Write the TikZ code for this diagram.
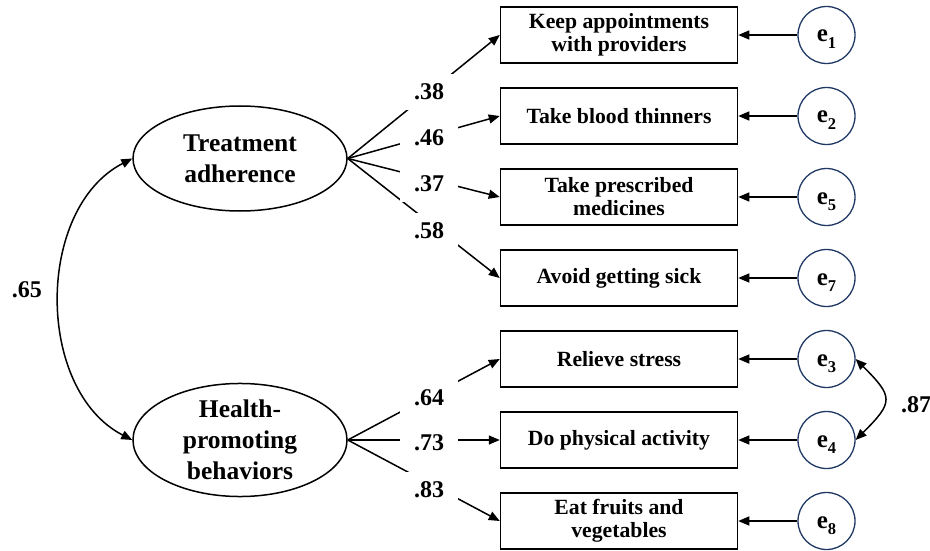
\documentclass[tikz,border=0pt]{standalone}
\usepackage{fontspec}
\setmainfont{Liberation Serif}
\usetikzlibrary{arrows.meta,shapes.geometric}
\definecolor{errblue}{RGB}{31,56,100}
\newcommand{\errsub}[1]{e\raisebox{-6pt}{\fontsize{16.5}{16.5}\selectfont #1}}
\begin{document}
\begin{tikzpicture}[x=1pt,y=-1pt,line width=1.5pt,
  >={Triangle[length=11pt,width=9pt]},
  latent/.style={draw,ellipse,minimum width=214pt,minimum height=105pt,inner sep=0pt,align=center,font=\fontsize{25.5}{31}\selectfont\bfseries},
  item/.style={draw,rectangle,minimum width=237pt,minimum height=56pt,inner sep=0pt,align=center,font=\fontsize{21.7}{23}\selectfont\bfseries},
  err/.style={draw=errblue,circle,line width=1.3pt,minimum size=57pt,inner sep=0pt,text height=19pt,text depth=5pt,font=\fontsize{25}{25}\selectfont\bfseries},
  coef/.style={fill=white,minimum width=58pt,minimum height=36pt,inner sep=0pt,font=\fontsize{24}{24}\selectfont\bfseries},
  corr/.style={font=\fontsize{24}{24}\selectfont\bfseries}]
\useasboundingbox (0,0) rectangle (930,551);
% latent factors
\node[latent] (ta) at (240,158.5) {Treatment\\adherence};
\node[latent] (hp) at (240,440) {Health-\\promoting\\behaviors};
% observed items
\node[item] (keep) at (619,35) {Keep appointments\\with providers};
\node[item] (blood) at (619,116) {Take blood thinners};
\node[item] (meds) at (619,197) {Take prescribed\\medicines};
\node[item] (sick) at (619,278) {Avoid getting sick};
\node[item] (stress) at (619,359) {Relieve stress};
\node[item] (phys) at (619,440) {Do physical activity};
\node[item] (fruit) at (619,521) {Eat fruits and\\vegetables};
% error terms
\node[err] (e1) at (826.5,35) {\errsub{1}};
\node[err] (e2) at (826.5,116) {\errsub{2}};
\node[err] (e5) at (826.5,197) {\errsub{5}};
\node[err] (e7) at (826.5,278) {\errsub{7}};
\node[err] (e3) at (826.5,359) {\errsub{3}};
\node[err] (e4) at (826.5,440) {\errsub{4}};
\node[err] (e8) at (826.5,521) {\errsub{8}};
% loadings
\draw[->] (ta.east) -- (keep.west);
\draw[->] (ta.east) -- (blood.west);
\draw[->] (ta.east) -- (meds.west);
\draw[->] (ta.east) -- (sick.west);
\draw[->] (hp.east) -- (stress.west);
\draw[->] (hp.east) -- (phys.west);
\draw[->] (hp.east) -- (fruit.west);
\node[coef] (l1) at (429,92) {.38};
\node[coef] (l2) at (429,138) {.46};
\node[coef] (l3) at (429,184) {.37};
\node[coef] (l4) at (429,231) {.58};
\node[coef] (l5) at (429,398) {.64};
\node[coef] (l6) at (429,443) {.73};
\node[coef] (l7) at (429,490) {.83};
% residuals
\foreach \e/\i in {e1/keep,e2/blood,e5/meds,e7/sick,e3/stress,e4/phys,e8/fruit}
  \draw[->] (\e) -- (\i);
% covariances
\draw[<->] (ta.west) .. controls +(-97,50) and +(-97,-50) .. (hp.west);
\node[corr] (r1) at (27,290) {.65};
\draw[<->] (e3.east) .. controls +(38,38) and +(38,-38) .. (e4.east);
\node[corr] (r2) at (916,405) {.87};
\end{tikzpicture}
\end{document}
